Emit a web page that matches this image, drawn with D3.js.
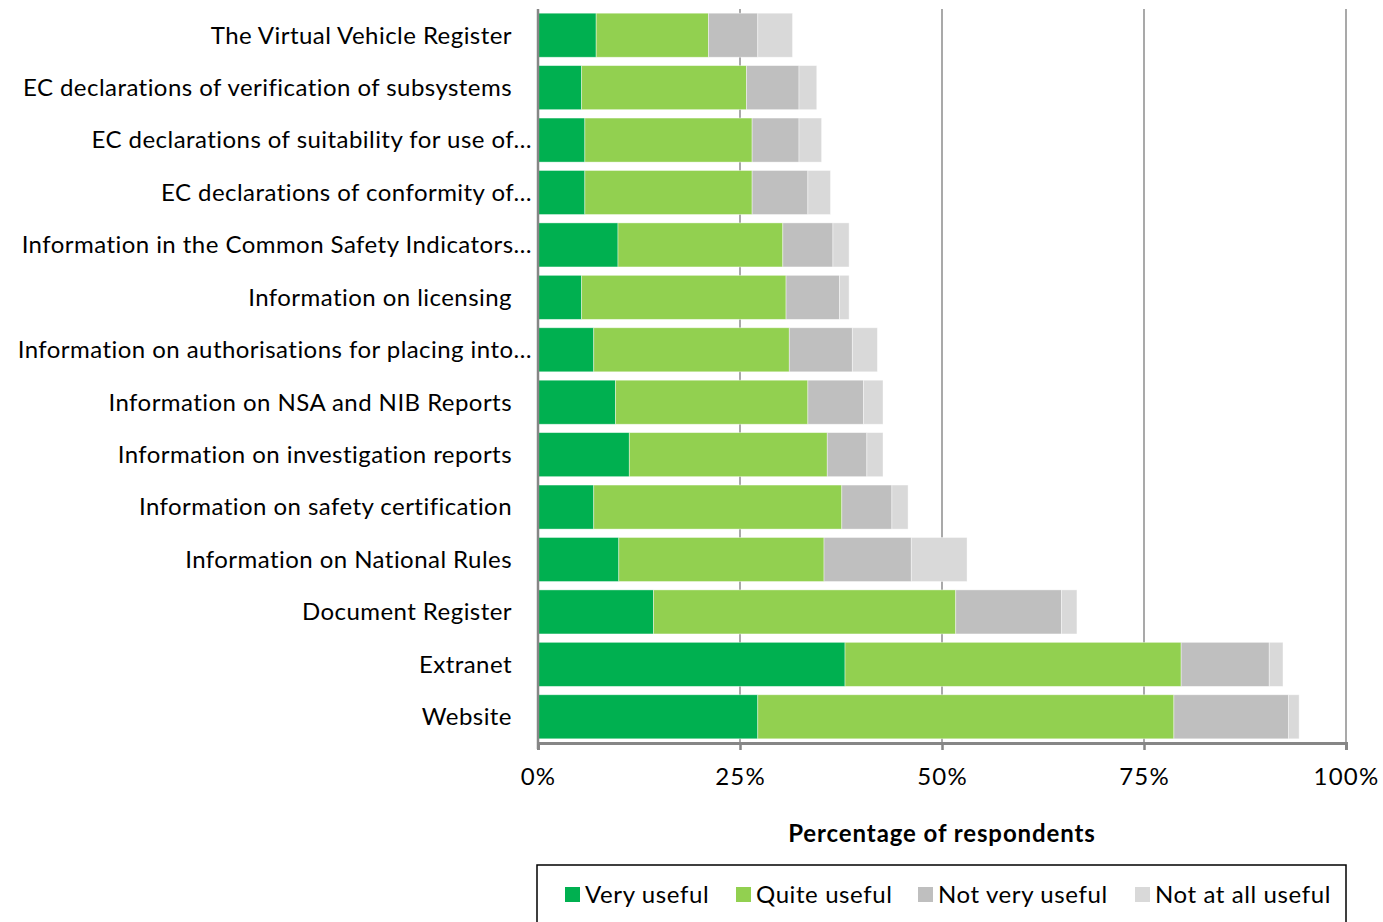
<!DOCTYPE html>
<html>
<head>
<meta charset="utf-8">
<script src="https://cdn.jsdelivr.net/npm/d3@7"></script>
<style>
  body { margin: 0; background: #fff; }
  svg { display: block; font-family: Lato, "Open Sans", sans-serif; }
</style>
</head>
<body>
<svg id="chart" width="1383" height="922"></svg>
<script>
'use strict';

// categories, top to bottom
var categories = [
	'The Virtual Vehicle Register',
	'EC declarations of verification of subsystems',
	'EC declarations of suitability for use of…',
	'EC declarations of conformity of…',
	'Information in the Common Safety Indicators…',
	'Information on licensing',
	'Information on authorisations for placing into…',
	'Information on NSA and NIB Reports',
	'Information on investigation reports',
	'Information on safety certification',
	'Information on National Rules',
	'Document Register',
	'Extranet',
	'Website'
];

var seriesNames = ['Very useful', 'Quite useful', 'Not very useful', 'Not at all useful'];
var seriesColors = ['#00b050', '#92d050', '#bfbfbf', '#d9d9d9'];

// percentage of respondents, per category
var veryUseful     = [7.2, 5.4, 5.8, 5.8, 9.9, 5.4, 6.9, 9.6, 11.3, 6.9, 10.0, 14.3, 38.0, 27.2];
var quiteUseful    = [13.9, 20.4, 20.7, 20.7, 20.4, 25.3, 24.2, 23.8, 24.5, 30.7, 25.4, 37.4, 41.6, 51.5];
var notVeryUseful  = [6.1, 6.5, 5.8, 6.9, 6.2, 6.6, 7.8, 6.9, 4.9, 6.2, 10.8, 13.1, 10.9, 14.2];
var notAtAllUseful = [4.3, 2.2, 2.8, 2.8, 2.0, 1.2, 3.1, 2.4, 2.0, 2.0, 6.9, 1.9, 1.7, 1.3];

var xTicks = [0, 25, 50, 75, 100];

var svg = d3.select('#chart');
var margin = { left: 538, right: 37, top: 9, bottom: 179 };
var width = 1383 - margin.left - margin.right;
var height = 922 - margin.top - margin.bottom;

var g = svg.append('g').attr('transform', 'translate(' + margin.left + ',' + margin.top + ')');

var x = d3.scaleLinear().domain([0, 100]).range([0, width]);
var y = d3.scaleBand().domain(categories).range([0, height]).paddingInner(0.16).paddingOuter(0.08);

// build rows for the stack
var rows = categories.map(function (c, i) {
	return {
		cat: c,
		'Very useful': veryUseful[i],
		'Quite useful': quiteUseful[i],
		'Not very useful': notVeryUseful[i],
		'Not at all useful': notAtAllUseful[i]
	};
});
var stacked = d3.stack().keys(seriesNames)(rows);

// gridlines
g.selectAll('line.grid')
	.data(xTicks.slice(1))
	.enter()
	.append('line')
	.attr('class', 'grid')
	.attr('x1', function (d) { return x(d); })
	.attr('x2', function (d) { return x(d); })
	.attr('y1', 0)
	.attr('y2', height)
	.attr('stroke', '#8c8c8c')
	.attr('stroke-width', 1.5);

// bars
g.selectAll('g.series')
		.data(stacked)
	.enter()
		.append('g')
		.attr('class', 'series')
		.attr('fill', function (d, i) { return seriesColors[i]; })
	.selectAll('rect')
		.data(function (d) { return d; })
	.enter()
		.append('rect')
		.attr('x', function (d) { return x(d[0]); })
		.attr('y', function (d) { return y(d.data.cat); })
		.attr('width', function (d) { return x(d[1]) - x(d[0]); })
		.attr('height', y.bandwidth())
		.attr('stroke', '#ffffff')
		.attr('stroke-opacity', 0.5)
		.attr('stroke-width', 0.8);

// left axis line
g.append('line')
	.attr('x1', 0).attr('x2', 0)
	.attr('y1', 0).attr('y2', height + 6)
	.attr('stroke', '#868686')
	.attr('stroke-width', 2.5);

// bottom axis
var xAxis = d3.axisBottom(x)
	.tickValues(xTicks)
	.tickFormat(function (d) { return d + '%'; })
	.tickSize(7)
	.tickPadding(18);

var ax = g.append('g')
	.attr('transform', 'translate(0,' + height + ')')
	.call(xAxis);
ax.select('.domain').attr('stroke', '#868686').attr('stroke-width', 3);
ax.selectAll('.tick line').attr('stroke', '#868686').attr('stroke-width', 2.5);
ax.selectAll('.tick text')
	.attr('fill', '#000')
	.style('font-size', '24px')
	.style('letter-spacing', '1.2px')
	.style('font-family', 'Lato, "Open Sans", sans-serif');

// category labels
g.selectAll('text.cat')
	.data(categories)
	.enter()
	.append('text')
	.attr('class', 'cat')
	.attr('x', function (d) { return d.slice(-1) === '…' ? -6 : -26; })
	.attr('y', function (d) { return y(d) + y.bandwidth() / 2; })
	.attr('dy', '0.35em')
	.attr('text-anchor', 'end')
	.style('font-size', '24px')
	.style('letter-spacing', '0.45px')
	.attr('fill', '#000')
	.text(function (d) { return d; });

// axis title
g.append('text')
	.attr('x', width / 2)
	.attr('y', height + 99)
	.attr('text-anchor', 'middle')
	.style('font-size', '24px')
	.style('letter-spacing', '0.9px')
	.style('font-weight', 'bold')
	.attr('fill', '#000')
	.text('Percentage of respondents');

// legend
var legend = svg.append('g').attr('transform', 'translate(537,865)');
legend.append('rect')
	.attr('x', 0).attr('y', 0)
	.attr('width', 809).attr('height', 70)
	.attr('fill', '#fff')
	.attr('stroke', '#000')
	.attr('stroke-width', 1.5);

var legendX = [28, 199, 381, 598];
var items = legend.selectAll('g.item')
	.data(seriesNames)
	.enter()
	.append('g')
	.attr('class', 'item')
	.attr('transform', function (d, i) { return 'translate(' + legendX[i] + ',30)'; });
items.append('rect')
	.attr('x', 0).attr('y', -8)
	.attr('width', 15).attr('height', 15)
	.attr('fill', function (d, i) { return seriesColors[i]; });
items.append('text')
	.attr('x', 20)
	.attr('y', 0)
	.attr('dy', '0.35em')
	.style('font-size', '24px')
	.style('letter-spacing', '0.6px')
	.attr('fill', '#000')
	.text(function (d) { return d; });
</script>
</body>
</html>
